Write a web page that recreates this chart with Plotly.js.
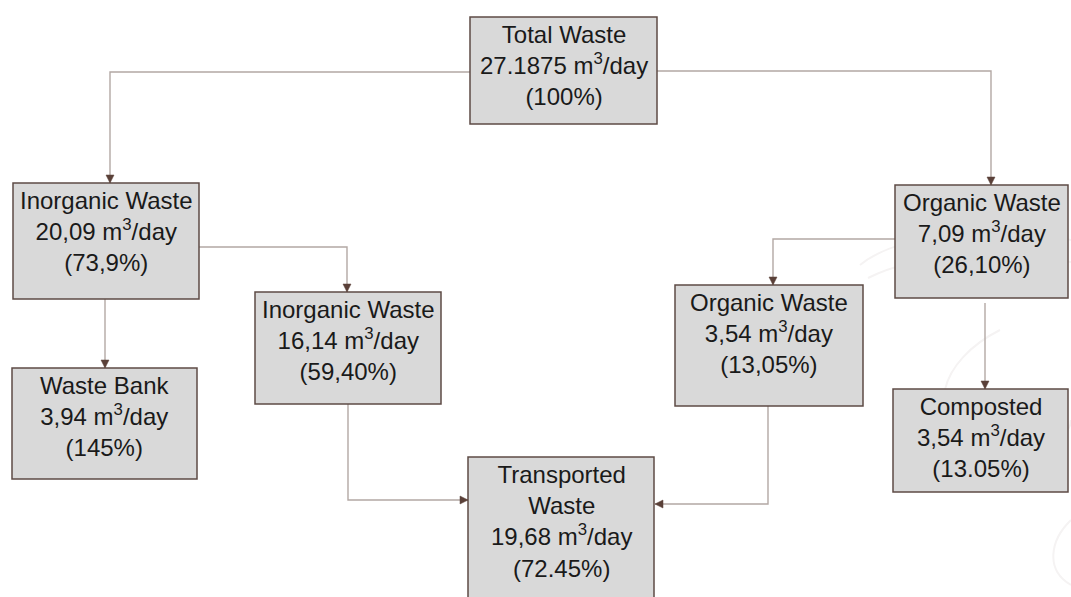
<!DOCTYPE html>
<html>
<head>
<meta charset="utf-8">
<script src="https://cdn.plot.ly/plotly-3.0.1.min.js"></script>
<style>
  html, body { margin: 0; padding: 0; background: #ffffff; }
  #chart { width: 1071px; height: 597px; }
</style>
</head>
<body>
<div id="chart"></div>
<script>
// ---- data ----
const nodeNames = ['Total Waste', 'Inorganic Waste', 'Organic Waste', 'Waste Bank',
                   'Inorganic Waste', 'Organic Waste', 'Composted', 'Transported<br>Waste'];
const nodeVolumes = ['27.1875', '20,09', '7,09', '3,94', '16,14', '3,54', '3,54', '19,68'];
const nodeShares = ['100%', '73,9%', '26,10%', '145%', '59,40%', '13,05%', '13.05%', '72.45%'];
const unitLabel = 'm<sup>3</sup>/day';
const linkSource = [0, 0, 1, 1, 2, 2, 4, 5];
const linkTarget = [1, 2, 3, 4, 5, 6, 7, 7];

// ---- layout geometry (pixel space of the diagram) ----
const boxes = [
  [470, 657, 17, 124],
  [13, 199, 183, 299],
  [895, 1068, 185, 298],
  [12, 197, 368, 479],
  [255, 441, 292, 404],
  [675, 863, 285, 406],
  [893, 1068, 389, 492],
  [468, 654, 457, 610]
];
const routes = [
  [[470, 72], [110, 72], [110, 183]],
  [[657, 71], [991, 71], [991, 185]],
  [[105, 299], [105, 368]],
  [[199, 247], [347, 247], [347, 292]],
  [[895, 239], [773, 239], [773, 285]],
  [[985, 303], [985, 389]],
  [[348, 404], [348, 500], [468, 500]],
  [[768, 406], [768, 504], [655, 504]]
];

const FONT = 'Liberation Sans, Arial, sans-serif';
const lineCol = '#b3a8a4';
const headCol = '#5a4038';
const borderCol = '#5e4b45';
const fillCol = '#d9d9d9';

const shapes = [];
const annotations = [];

// very faint decorative watermark
const wm = [
  'M 860 265 C 900 232, 1000 226, 1071 240',
  'M 868 278 C 920 252, 1000 250, 1071 262',
  'M 1000 330 C 940 360, 920 420, 980 445 C 1030 460, 1071 440, 1071 420',
  'M 1071 520 C 1050 540, 1045 570, 1071 585'
];
wm.forEach(p => shapes.push({type: 'path', path: p, xref: 'x', yref: 'y',
  line: {color: '#f5f3f3', width: 2}, layer: 'below'}));

// connectors with arrowheads
linkSource.forEach((s, i) => {
  const pts = routes[i];
  let path = 'M ' + pts[0][0] + ' ' + pts[0][1];
  for (let k = 1; k < pts.length; k++) path += ' L ' + pts[k][0] + ' ' + pts[k][1];
  shapes.push({type: 'path', path: path, xref: 'x', yref: 'y',
    line: {color: lineCol, width: 1.4}, layer: 'below'});
  const tip = pts[pts.length - 1], prev = pts[pts.length - 2];
  const dx = Math.sign(tip[0] - prev[0]), dy = Math.sign(tip[1] - prev[1]);
  const L = 8, W = 4;
  const bx = tip[0] - dx * L, by = tip[1] - dy * L;
  const px = -dy * W, py = dx * W;
  shapes.push({type: 'path', xref: 'x', yref: 'y',
    path: 'M ' + tip[0] + ' ' + tip[1] + ' L ' + (bx + px) + ' ' + (by + py) +
          ' L ' + (bx - px) + ' ' + (by - py) + ' Z',
    fillcolor: headCol, line: {color: headCol, width: 0.5}, layer: 'above'});
});

// boxes + text
nodeNames.forEach((name, i) => {
  const b = boxes[i];
  shapes.push({type: 'rect', xref: 'x', yref: 'y', x0: b[0], x1: b[1], y0: b[2], y1: b[3],
    fillcolor: fillCol, line: {color: borderCol, width: 1.5}, layer: 'below'});
  annotations.push({x: (b[0] + b[1]) / 2, y: b[2] + 2, xref: 'x', yref: 'y',
    xanchor: 'center', yanchor: 'top', showarrow: false, align: 'center',
    text: name + '<br>' + nodeVolumes[i] + ' ' + unitLabel + '<br>(' + nodeShares[i] + ')',
    font: {family: FONT, size: 24, color: '#1a1a1a'}});
});

const layout = {
  width: 1071, height: 597,
  margin: {l: 0, r: 0, t: 0, b: 0},
  paper_bgcolor: '#ffffff', plot_bgcolor: '#ffffff',
  showlegend: false,
  xaxis: {range: [0, 1071], visible: false, fixedrange: true},
  yaxis: {range: [597, 0], visible: false, fixedrange: true},
  shapes: shapes,
  annotations: annotations
};

Plotly.newPlot('chart', [], layout, {displayModeBar: false, staticPlot: true});
</script>
</body>
</html>
